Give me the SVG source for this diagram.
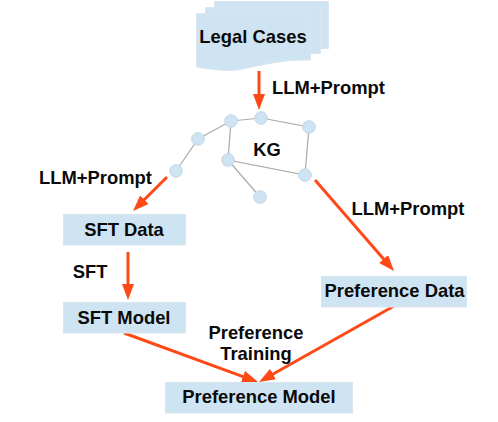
<svg xmlns="http://www.w3.org/2000/svg" width="498" height="422" viewBox="0 0 498 422">
<style>
text{font-family:"Liberation Sans",Arial,sans-serif;font-weight:bold;font-size:18.400px;fill:#0a0a0a;text-anchor:middle}
.box{fill:#cfe4f3;stroke:#d9e6f0;stroke-width:1}
.nd{fill:#cfe4f3;stroke:#c2d6e5;stroke-width:1}
.edge{stroke:#aaa;stroke-width:1.2;fill:none}
.arr{stroke:#ff4a17;stroke-width:3;fill:none;marker-end:url(#head)}
</style>
<defs>
<marker id="head" viewBox="0 0 16 12" markerUnits="userSpaceOnUse" markerWidth="16" markerHeight="12" refX="8" refY="6" orient="auto">
<path d="M0 0L16 6L0 12Z" fill="#ff4a17"/>
</marker>
</defs>
<rect width="498" height="422" fill="#fff"/>
<g id="legal-cases">
<path class="box" d="M214.500 1.500H328.500V48.500H214.500Z"/>
<path class="box" d="M205.500 7.500H320.500V53.500H205.500Z"/>
<path class="box" d="M196.500 13.500H310.500V60C285 59 262 65 240 69.500C224 72 210 69 196.500 67Z"/>
<text x="253" y="43">Legal Cases</text>
</g>
<g id="connectors">
<path class="edge" d="M176 171L198 139L231 121L261 118L309 127L305 175L228 160L231 121M228 160L260 197"/>
<path class="arr" d="M259 71V102"/>
<path class="arr" d="M167 177L138.700 205.300"/>
<path class="arr" d="M128 252V292"/>
<path class="arr" d="M315 180L388.800 265"/>
<path class="arr" d="M124 333L250.500 379.300"/>
<path class="arr" d="M394 306L266 378"/>
</g>
<g id="kg">
<circle class="nd" cx="176" cy="171" r="6.300"/>
<circle class="nd" cx="198" cy="139" r="6.300"/>
<circle class="nd" cx="231" cy="121" r="6.300"/>
<circle class="nd" cx="261" cy="118" r="6.300"/>
<circle class="nd" cx="309" cy="127" r="6.300"/>
<circle class="nd" cx="228" cy="160" r="6.300"/>
<circle class="nd" cx="305" cy="175" r="6.300"/>
<circle class="nd" cx="260" cy="197" r="6.300"/>
<text x="267" y="156">KG</text>
</g>
<g id="sft-data"><rect class="box" x="63.500" y="214.500" width="122" height="30.500"/><text x="124" y="236">SFT Data</text></g>
<g id="sft-model"><rect class="box" x="63.500" y="302.500" width="122" height="30.500"/><text x="124" y="324">SFT Model</text></g>
<g id="preference-data"><rect class="box" x="321.500" y="276.500" width="145" height="30.500"/><text x="394.500" y="297">Preference Data</text></g>
<g id="preference-model"><rect class="box" x="165.500" y="382.500" width="187" height="30.500"/><text x="259" y="403">Preference Model</text></g>
<g id="labels">
<text x="328.500" y="94">LLM+Prompt</text>
<text x="95.500" y="184">LLM+Prompt</text>
<text x="408" y="215">LLM+Prompt</text>
<text x="90" y="278">SFT</text>
<text x="256" y="339">Preference</text>
<text x="256" y="360">Training</text>
</g>
</svg>
